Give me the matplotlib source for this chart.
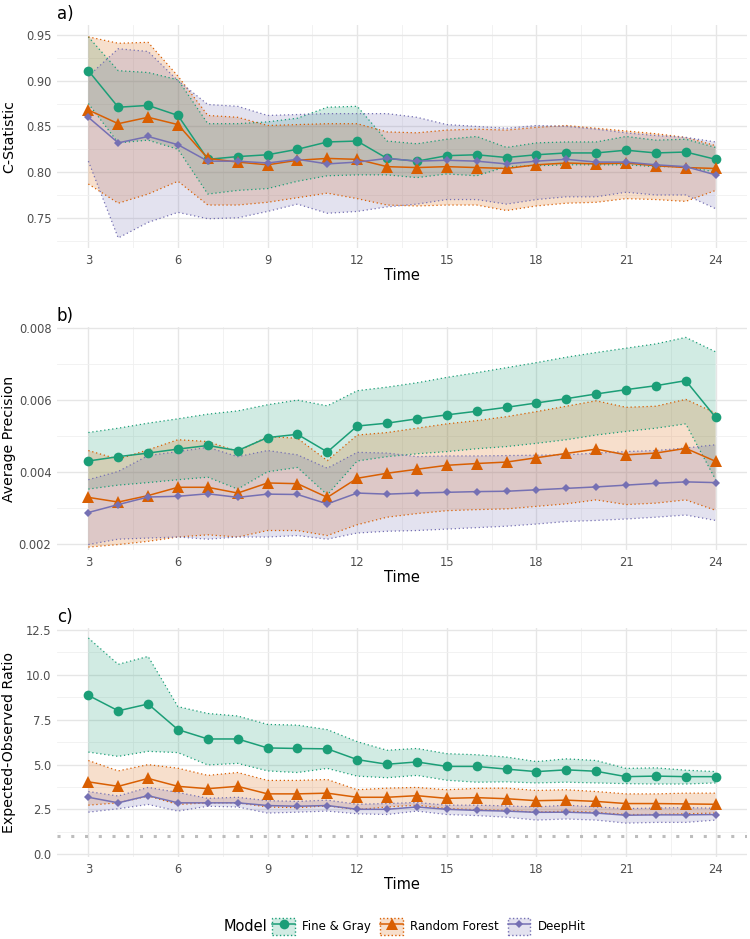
import matplotlib
matplotlib.use("Agg")
import matplotlib.pyplot as plt
from matplotlib.lines import Line2D
from matplotlib.patches import Patch
from matplotlib.colors import to_rgba
import numpy as np

# data
time = list(range(3, 25))
models = ["Fine & Gray", "Random Forest", "DeepHit"]

# a) C-statistic
cstat_fg = [0.911, 0.871, 0.873, 0.862, 0.814, 0.817, 0.819, 0.825, 0.833, 0.834, 0.815, 0.812,
            0.818, 0.819, 0.816, 0.819, 0.821, 0.821, 0.824, 0.821, 0.822, 0.814]
cstat_fg_lo = [0.875, 0.832, 0.835, 0.825, 0.776, 0.780, 0.782, 0.790, 0.796, 0.797, 0.797, 0.794,
               0.798, 0.796, 0.806, 0.807, 0.808, 0.808, 0.808, 0.806, 0.806, 0.800]
cstat_fg_hi = [0.948, 0.911, 0.909, 0.901, 0.853, 0.853, 0.855, 0.859, 0.871, 0.872, 0.834, 0.831,
               0.836, 0.839, 0.827, 0.832, 0.833, 0.833, 0.839, 0.835, 0.836, 0.827]
cstat_rf = [0.868, 0.853, 0.860, 0.852, 0.815, 0.811, 0.808, 0.813, 0.815, 0.814, 0.806, 0.805,
            0.806, 0.805, 0.804, 0.808, 0.810, 0.809, 0.810, 0.807, 0.805, 0.804]
cstat_rf_lo = [0.787, 0.766, 0.776, 0.790, 0.764, 0.764, 0.767, 0.772, 0.777, 0.771, 0.764, 0.763,
               0.764, 0.764, 0.758, 0.763, 0.766, 0.767, 0.771, 0.770, 0.768, 0.780]
cstat_rf_hi = [0.948, 0.941, 0.942, 0.905, 0.862, 0.860, 0.851, 0.852, 0.853, 0.853, 0.844, 0.843,
               0.846, 0.847, 0.846, 0.849, 0.851, 0.848, 0.845, 0.842, 0.838, 0.829]
cstat_dh = [0.860, 0.832, 0.839, 0.830, 0.812, 0.812, 0.810, 0.814, 0.809, 0.811, 0.815, 0.812,
            0.813, 0.812, 0.809, 0.812, 0.814, 0.811, 0.811, 0.808, 0.806, 0.797]
cstat_dh_lo = [0.812, 0.728, 0.745, 0.756, 0.749, 0.750, 0.757, 0.765, 0.755, 0.757, 0.762, 0.765,
               0.770, 0.770, 0.765, 0.770, 0.773, 0.773, 0.778, 0.775, 0.775, 0.760]
cstat_dh_hi = [0.905, 0.935, 0.932, 0.900, 0.874, 0.872, 0.862, 0.863, 0.864, 0.864, 0.864, 0.860,
               0.852, 0.850, 0.848, 0.851, 0.850, 0.847, 0.843, 0.840, 0.838, 0.833]

# b) average precision
ap_fg = [0.00430, 0.00442, 0.00452, 0.00463, 0.00473, 0.00459, 0.00495, 0.00504, 0.00455, 0.00527,
         0.00535, 0.00547, 0.00558, 0.00568, 0.00579, 0.00591, 0.00603, 0.00616, 0.00628, 0.00639,
         0.00653, 0.00551]
ap_fg_lo = [0.00352, 0.00363, 0.00370, 0.00378, 0.00385, 0.00352, 0.00400, 0.00412, 0.00336, 0.00430,
            0.00442, 0.00450, 0.00456, 0.00464, 0.00470, 0.00479, 0.00489, 0.00502, 0.00512, 0.00521,
            0.00533, 0.00378]
ap_fg_hi = [0.00509, 0.00521, 0.00535, 0.00547, 0.00560, 0.00569, 0.00586, 0.00599, 0.00583, 0.00625,
            0.00635, 0.00647, 0.00662, 0.00675, 0.00689, 0.00703, 0.00718, 0.00731, 0.00743, 0.00755,
            0.00773, 0.00733]
ap_rf = [0.00329, 0.00316, 0.00334, 0.00357, 0.00357, 0.00341, 0.00369, 0.00367, 0.00329, 0.00382,
         0.00396, 0.00407, 0.00418, 0.00423, 0.00427, 0.00439, 0.00451, 0.00463, 0.00447, 0.00452,
         0.00465, 0.00429]
ap_rf_lo = [0.00191, 0.00198, 0.00207, 0.00219, 0.00225, 0.00219, 0.00237, 0.00237, 0.00223, 0.00253,
            0.00274, 0.00284, 0.00292, 0.00295, 0.00297, 0.00304, 0.00311, 0.00322, 0.00309, 0.00313,
            0.00322, 0.00293]
ap_rf_hi = [0.00459, 0.00435, 0.00461, 0.00489, 0.00484, 0.00456, 0.00498, 0.00493, 0.00431, 0.00502,
            0.00509, 0.00521, 0.00533, 0.00542, 0.00553, 0.00567, 0.00582, 0.00597, 0.00579, 0.00582,
            0.00601, 0.00563]
ap_dh = [0.00287, 0.00309, 0.00330, 0.00332, 0.00339, 0.00329, 0.00338, 0.00337, 0.00311, 0.00341,
         0.00338, 0.00341, 0.00343, 0.00345, 0.00346, 0.00350, 0.00354, 0.00358, 0.00363, 0.00368,
         0.00372, 0.00370]
ap_dh_lo = [0.00198, 0.00213, 0.00216, 0.00219, 0.00213, 0.00219, 0.00219, 0.00223, 0.00213, 0.00230,
            0.00235, 0.00237, 0.00241, 0.00245, 0.00249, 0.00255, 0.00262, 0.00265, 0.00269, 0.00274,
            0.00280, 0.00265]
ap_dh_hi = [0.00378, 0.00401, 0.00445, 0.00456, 0.00468, 0.00442, 0.00459, 0.00447, 0.00410, 0.00454,
            0.00452, 0.00442, 0.00444, 0.00444, 0.00445, 0.00446, 0.00447, 0.00452, 0.00456, 0.00459,
            0.00466, 0.00475]

# c) expected-observed ratio
eo_fg = [8.86, 8.00, 8.38, 6.95, 6.43, 6.43, 5.93, 5.90, 5.88, 5.28, 5.02, 5.15, 4.90, 4.90, 4.75,
         4.61, 4.71, 4.63, 4.33, 4.36, 4.33, 4.33]
eo_fg_lo = [5.70, 5.46, 5.74, 5.67, 4.98, 5.07, 4.65, 4.56, 4.79, 4.36, 4.27, 4.40, 4.13, 4.02, 4.04,
            3.98, 4.02, 3.98, 3.94, 3.92, 3.92, 3.98]
eo_fg_hi = [12.06, 10.59, 11.03, 8.23, 7.85, 7.71, 7.24, 7.20, 6.95, 6.28, 5.80, 5.90, 5.61, 5.55,
            5.42, 5.17, 5.32, 5.23, 4.79, 4.82, 4.69, 4.61]
eo_rf = [4.04, 3.79, 4.23, 3.79, 3.66, 3.79, 3.37, 3.37, 3.41, 3.18, 3.18, 3.27, 3.12, 3.16, 3.10,
         2.99, 3.02, 2.95, 2.83, 2.83, 2.81, 2.79]
eo_rf_lo = [2.74, 2.87, 3.25, 2.78, 2.87, 2.87, 2.64, 2.60, 2.70, 2.49, 2.64, 2.74, 2.55, 2.49, 2.45,
            2.35, 2.41, 2.34, 2.22, 2.22, 2.26, 2.30]
eo_rf_hi = [5.23, 4.65, 5.00, 4.80, 4.40, 4.56, 4.12, 4.12, 4.17, 3.60, 3.69, 3.73, 3.60, 3.68, 3.69,
            3.56, 3.60, 3.50, 3.37, 3.37, 3.41, 3.41]
eo_dh = [3.18, 2.87, 3.27, 2.87, 2.87, 2.87, 2.72, 2.68, 2.72, 2.51, 2.51, 2.64, 2.51, 2.45, 2.41,
         2.34, 2.35, 2.30, 2.18, 2.20, 2.20, 2.22]
eo_dh_lo = [2.35, 2.54, 2.78, 2.41, 2.68, 2.64, 2.30, 2.35, 2.41, 2.26, 2.22, 2.41, 2.22, 2.16, 2.07,
            1.91, 1.97, 1.91, 1.74, 1.78, 1.78, 1.91]
eo_dh_hi = [3.50, 3.25, 3.73, 3.45, 3.12, 3.18, 2.99, 2.95, 3.02, 2.79, 2.83, 2.89, 2.74, 2.74, 2.70,
            2.64, 2.74, 2.64, 2.55, 2.58, 2.60, 2.57]

colors = ["#1B9E77", "#D95F02", "#7570B3"]
markers = ["o", "^", "D"]
msizes = [7, 8.5, 4.5]

panels = [
    ("a)", "C-Statistic", (0.717, 0.961), [0.75, 0.80, 0.85, 0.90, 0.95], "{:.2f}",
     [(cstat_fg, cstat_fg_lo, cstat_fg_hi), (cstat_rf, cstat_rf_lo, cstat_rf_hi),
      (cstat_dh, cstat_dh_lo, cstat_dh_hi)]),
    ("b)", "Average Precision", (0.00183, 0.00802), [0.002, 0.004, 0.006, 0.008], "{:.3f}",
     [(ap_fg, ap_fg_lo, ap_fg_hi), (ap_rf, ap_rf_lo, ap_rf_hi), (ap_dh, ap_dh_lo, ap_dh_hi)]),
    ("c)", "Expected-Observed Ratio", (-0.15, 12.62), [0.0, 2.5, 5.0, 7.5, 10.0, 12.5], "{:.1f}",
     [(eo_fg, eo_fg_lo, eo_fg_hi), (eo_rf, eo_rf_lo, eo_rf_hi), (eo_dh, eo_dh_lo, eo_dh_hi)]),
]

fig = plt.figure(figsize=(7.5, 9.39), dpi=100)
boxes = [[0.076, 0.7359, 0.92, 0.2375],
         [0.076, 0.4143, 0.92, 0.2375],
         [0.076, 0.0873, 0.92, 0.2440]]

for box, (tag, ylabel, ylim, yticks, fmt, series) in zip(boxes, panels):
    ax = fig.add_axes(box)
    # ribbons first, then lines on top
    for (y, lo, hi), c in zip(series, colors):
        ax.fill_between(time, lo, hi, facecolor=to_rgba(c, 0.2), edgecolor="none", zorder=2)
        ax.plot(time, lo, color=c, lw=0.9, ls=(0, (1, 2.2)), zorder=3)
        ax.plot(time, hi, color=c, lw=0.9, ls=(0, (1, 2.2)), zorder=3)
    for (y, lo, hi), c, m, ms in zip(series, colors, markers, msizes):
        ax.plot(time, y, color=c, lw=1.1, marker=m, markersize=ms, markeredgewidth=0, zorder=4)
    if tag == "c)":
        ax.axhline(1, color="#bdbdbd", lw=2.2, ls=(0, (1, 3.5)), zorder=1)

    ax.set_xlim(1.95, 25.05)
    ax.set_xticks(range(3, 25, 3))
    ax.set_xticks(np.arange(4.5, 25, 3), minor=True)
    ax.set_yticks(yticks)
    ax.set_yticklabels([fmt.format(v) for v in yticks])
    ax.set_yticks([(a + b) / 2 for a, b in zip(yticks[:-1], yticks[1:])]
                  + [yticks[0] - (yticks[1] - yticks[0]) / 2], minor=True)
    ax.set_ylim(*ylim)
    ax.grid(which="major", color="#e6e6e6", lw=1.0, zorder=0)
    ax.grid(which="minor", color="#f0f0f0", lw=0.6, zorder=0)
    ax.set_axisbelow(True)
    for s in ax.spines.values():
        s.set_visible(False)
    ax.tick_params(which="both", length=0, labelsize=8.3, labelcolor="#4d4d4d", pad=4)
    ax.set_xlabel("Time", fontsize=10.5, labelpad=1)
    ax.set_ylabel(ylabel, fontsize=10.2)
    ax.yaxis.set_label_coords(-0.059, 0.5)
    ax.set_title(tag, loc="left", fontsize=12, pad=4)

handles = []
for c, m, ms in zip(colors, markers, msizes):
    patch = Patch(facecolor=to_rgba(c, 0.2), edgecolor=c, linestyle=":", linewidth=1.0)
    line = Line2D([], [], color=c, lw=1.1, marker=m, markersize=ms, markeredgewidth=0)
    handles.append((patch, line))

fig.legend(handles, models, loc="center", bbox_to_anchor=(0.572, 0.0135), ncol=3,
           frameon=False, fontsize=8.5, handlelength=1.9, handleheight=1.9,
           handletextpad=0.6, columnspacing=0.8, borderpad=0.2)
fig.text(0.357, 0.0135, "Model", fontsize=10.5, ha="right", va="center")

fig.savefig("out.png", dpi=100)
